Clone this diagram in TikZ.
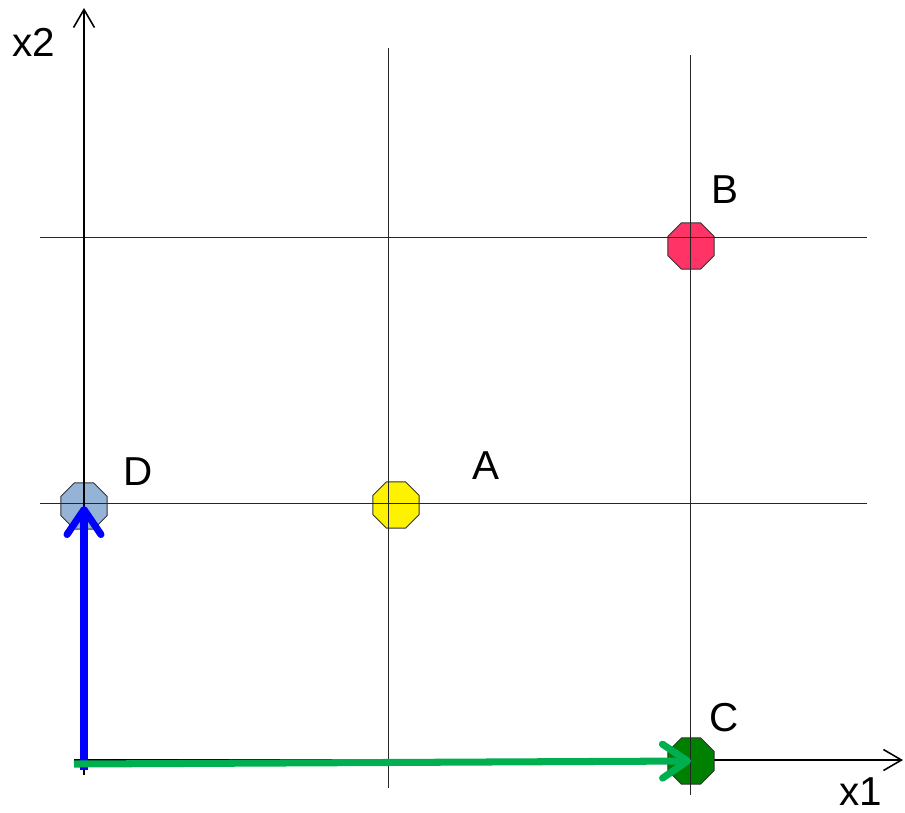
\documentclass[tikz,border=0pt]{standalone}
\usepackage{fontspec}
\setmainfont{Liberation Sans}
\usetikzlibrary{arrows.meta,shapes.geometric}

\definecolor{ptred}{RGB}{255,51,102}
\definecolor{ptblue}{RGB}{149,179,215}
\definecolor{ptgreen}{RGB}{0,128,0}
\definecolor{movegreen}{RGB}{0,176,80}

\tikzset{
  pt/.style={regular polygon, regular polygon sides=8, minimum size=1.0cm,
    inner sep=0pt, draw=black!80, line width=0.5pt},
  lbl/.style={font=\fontsize{23}{27}\selectfont, inner sep=0pt},
  gridline/.style={black!85, line width=0.5pt},
  axis/.style={black, line width=0.9pt, -{Straight Barb[length=0.36cm,width=0.42cm]}},
  move/.style={line width=4pt, -{Straight Barb[round,length=0.5cm,width=0.68cm]}}
}

\begin{document}
\begin{tikzpicture}[x=0.02cm,y=-0.02cm]
\useasboundingbox (0,0) rectangle (905,812);

% Axes ends
\coordinate (O) at (84,775);
\coordinate (xend) at (903,760);
\coordinate (yend) at (84,8);

% Horizontal axis
\draw[axis] (74,760) -- (xend);

% The four points
\node[pt, fill=ptred] (B) at (691,246) {};
\node[pt, fill=yellow] (A) at (396,505) {};
\node[pt, fill=ptblue] (D) at (84,506) {};
\node[pt, fill=ptgreen] (C) at (691,761) {};

% Grid lines
\draw[gridline] (388,48) -- (388,788);
\draw[gridline] (690,55) -- (690,795);
\draw[gridline] (40,237) -- (867,237);
\draw[gridline] (40,503) -- (867,503);

% Vertical axis
\draw[axis] (O) -- (yend);

% Labels
\node[lbl] (labB) at (725,190) {B};
\node[lbl] (labA) at (486,466) {A};
\node[lbl] (labD) at (138,472) {D};
\node[lbl] (labC) at (724,718) {C};
\node[lbl] (labx2) at (34,42) {x2};
\node[lbl] (labx1) at (861,792) {x1};

% Moves from the origin
\coordinate (gs) at (74,764);
\coordinate (bs) at (84,770);
\draw[move, blue] (bs) -- (D.center);
\draw[move, movegreen] (gs) -- (C.center);
\end{tikzpicture}
\end{document}
